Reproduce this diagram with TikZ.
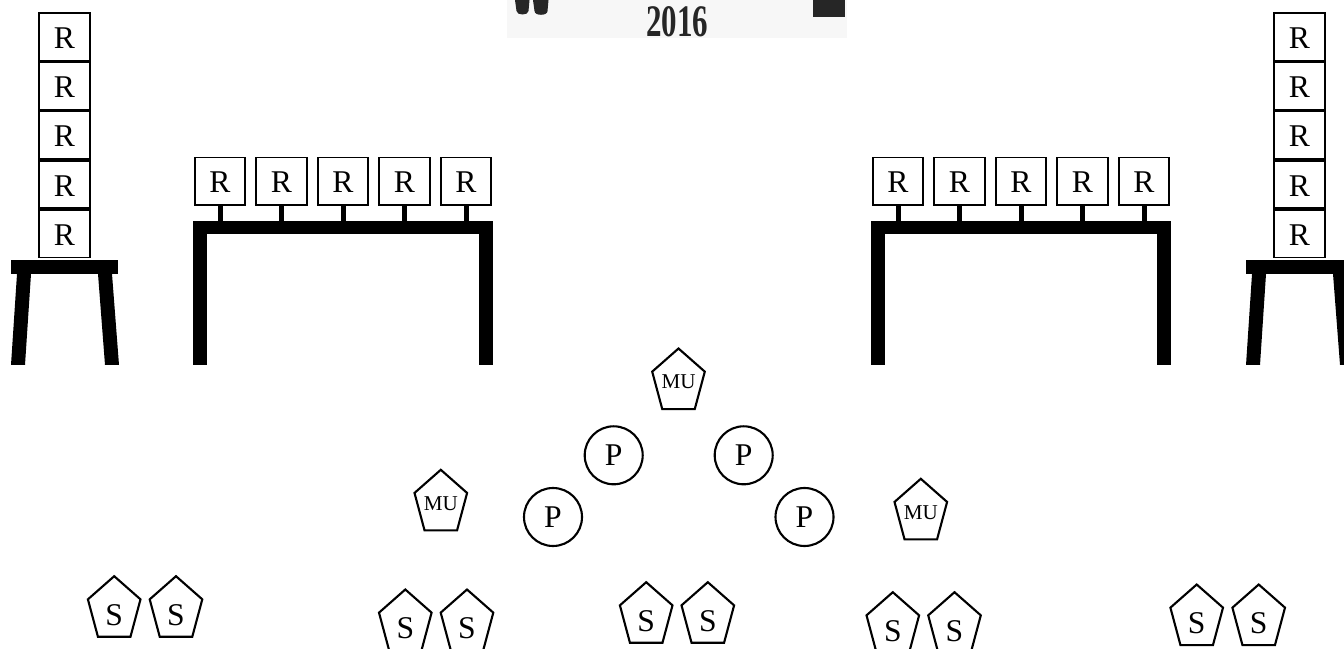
\documentclass[tikz,border=0pt]{standalone}
\usepackage{fontspec}
\setmainfont{Liberation Serif}
\usetikzlibrary{positioning, calc}

\newcommand{\labelfont}{\fontsize{18}{21}\selectfont}
\newcommand{\mufont}{\fontsize{12}{14}\selectfont}
% pentagon outline round a named node, lifted by #2
\newcommand{\pentaround}[2]{%
  \draw[pentline, shift={($(#1.center)+(0,#2)$)}] (90:0.553 and 0.67)
    \foreach \a in {162,234,306,18} {-- (\a:0.553 and 0.67)} -- cycle;}

\begin{document}
\begin{tikzpicture}[scale=1.0,
    rbox/.style={draw, line width=1pt, minimum width=1.01cm, minimum height=0.95cm,
                 inner sep=0pt, text height=13pt, text depth=-1pt, font=\labelfont},
    pcirc/.style={circle, draw, line width=1.2pt, minimum size=1.16cm, inner sep=0pt,
                  font=\labelfont},
    stext/.style={inner sep=0pt, font=\labelfont},
    mutext/.style={inner sep=0pt, font=\mufont},
    pentline/.style={line width=1.2pt, line join=miter},
    stem/.style={line width=0.1cm}]
    \useasboundingbox (0,0) rectangle (26.88,12.96);

    % cut-off banner at the top
    \fill[black!3] (10.14,12.2) rectangle (16.93,12.96);
    \fill[black!85] (10.30,12.96) -- (10.59,12.96) -- (10.57,12.74)
        to[out=-90,in=-90] (10.33,12.74) -- cycle;
    \fill[black!85] (10.66,12.96) -- (10.97,12.96) -- (10.95,12.74)
        to[out=-90,in=-90] (10.69,12.74) -- cycle;
    \fill[black!85] (16.25,12.614) rectangle (16.90,12.96);
    \node[black!85, inner sep=0pt] (year) at (13.54,12.53)
        {\resizebox{1.24cm}{0.6cm}{\bfseries 2016}};

    % chairs with stacked boxes (right one runs off the page)
    \foreach \dx/\s in {0/l, 24.7/r} {
      \begin{scope}[xshift=\dx cm]
        \fill (0.22,7.48) rectangle (2.36,7.76);                       % seat
        \fill (0.34,7.48) -- (0.62,7.48) -- (0.50,5.66) -- (0.22,5.66) -- cycle;
        \fill (1.96,7.48) -- (2.24,7.48) -- (2.38,5.66) -- (2.10,5.66) -- cycle;
        \node[rbox, anchor=south] (c\s1) at (1.29,7.79) {R};
        \foreach \i [count=\j from 2] in {1,...,4}
          \node[rbox, above=0pt of c\s\i] (c\s\j) {R};
      \end{scope}
    }

    % tables with five boxes on stems
    \foreach \dx/\s in {0/l, 13.56/r} {
      \begin{scope}[xshift=\dx cm]
        \coordinate (top\s) at (3.86,8.54);
        \fill (3.86,8.28) rectangle (9.86,8.54);                       % top
        \fill (3.86,5.66) rectangle (4.14,8.28);
        \fill (9.58,5.66) rectangle (9.86,8.28);
        \foreach \i in {1,...,5} {
          \node[rbox] (t\s\i) at ({4.40+1.23*(\i-1)},9.336) {R};
          \draw[stem] (t\s\i.south) -- (t\s\i.south |- top\s);
        }
      \end{scope}
    }

    % MU pentagons
    \foreach \n/\x/\y in {mutop/13.57/5.32, muleft/8.816/2.894, muright/18.416/2.714} {
      \node[mutext] (\n) at (\x,\y) {MU};
      \pentaround{\n}{0}
    }

    % P circles
    \node[pcirc] (p1) at (12.274,3.854) {P};
    \node[pcirc] (p2) at (14.874,3.854) {P};
    \node[pcirc] (p3) at (11.06,2.62) {P};
    \node[pcirc] (p4) at (16.09,2.62) {P};

    % S pentagons along the bottom
    \foreach \n/\x/\y in {s1a/2.284/0.766, s1b/3.52/0.766,
                          s2a/8.106/0.50, s2b/9.34/0.50,
                          s3a/12.924/0.646, s3b/14.156/0.646,
                          s4a/17.856/0.446, s4b/19.09/0.446,
                          s5a/23.934/0.60, s5b/25.174/0.60} {
      \node[stext] (\n) at (\x,\y-0.1) {S};
      \pentaround{\n}{0.1}
    }
\end{tikzpicture}
\end{document}
